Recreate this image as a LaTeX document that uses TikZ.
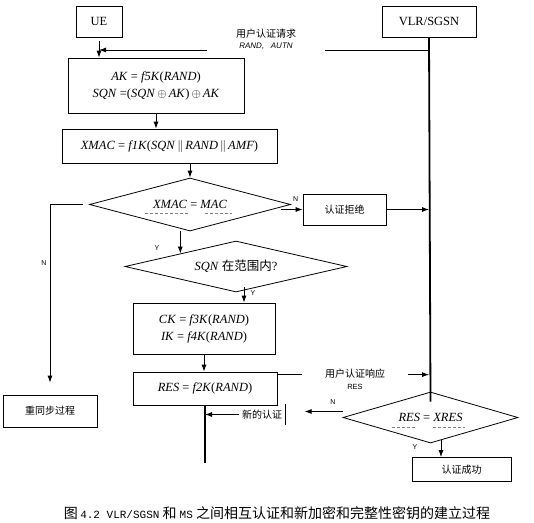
\documentclass[tikz,border=0pt]{standalone}
\usepackage{fontspec}
\setmainfont{Liberation Serif}
\setsansfont{Liberation Sans}
\setmonofont{Liberation Mono}
\newfontfamily\cjk{Noto Sans CJK SC}
\usetikzlibrary{shapes.geometric,arrows.meta}
\newcommand{\vv}[1]{\textit{#1}}
\newcommand{\lat}[1]{{\ttfamily\fontsize{11}{12}\selectfont #1}}

\begin{document}
\begin{tikzpicture}[x=1pt,y=-1pt,line width=0.8pt,
    box/.style={draw,inner sep=2pt,align=center,font=\fontsize{12.5}{17}\selectfont},
    cbox/.style={draw,inner sep=2pt,font=\cjk\fontsize{10}{12}\selectfont},
    test/.style={draw,diamond,inner sep=0pt,font=\fontsize{12.5}{15}\selectfont},
    yn/.style={font=\sffamily\fontsize{7}{8}\selectfont,inner sep=1pt},
    msg/.style={align=center,inner sep=3pt,font=\fontsize{10}{15}\selectfont},
    arr/.style={-{Latex[length=7pt,width=5pt]}},
    life/.style={line width=1.8pt},
    ul/.style={gray,line width=0.5pt,dash pattern=on 3pt off 2pt}]
    \useasboundingbox (0,0) rectangle (534,522);

    \node[box,minimum width=46pt,minimum height=31pt] (ue) at (99,21.5) {UE};
    \node[box,minimum width=94pt,minimum height=31pt] (vlr) at (429,21.5) {VLR/SGSN};
    \node[box,minimum width=176pt,minimum height=55pt] (ak) at (156,85.5) {\vv{AK} = \vv{f5K}(\vv{RAND})\\ \vv{SQN} =(\vv{SQN}\,$\oplus$\,\vv{AK})\,$\oplus$\,\vv{AK}};
    \node[box,minimum width=215pt,minimum height=34pt] (xmac) at (169.5,146) {\vv{XMAC} = \vv{f1K}(\vv{SQN}\,$\|$\,\vv{RAND}\,$\|$\,\vv{AMF})};
    \node[test,aspect=3.79,minimum width=201pt,minimum height=53pt] (d1) at (190,204.5) {\vv{XMAC} = \vv{MAC}};
    \node[cbox,minimum width=83pt,minimum height=31pt] (rej) at (344.5,209.5) {认证拒绝};
    \node[test,aspect=4.35,minimum width=222pt,minimum height=51pt] (d2) at (236,266.5) {\vv{SQN} {\cjk 在范围内}?};
    \node[cbox,minimum width=94pt,minimum height=32pt] (resync) at (50,411) {重同步过程};
    \node[box,minimum width=142pt,minimum height=51pt] (ck) at (204,328.5) {\vv{CK} = \vv{f3K}(\vv{RAND})\\ \vv{IK} = \vv{f4K}(\vv{RAND})};
    \node[box,minimum width=144pt,minimum height=33pt] (res) at (205,388.5) {\vv{RES} = \vv{f2K}(\vv{RAND})};
    \node[test,aspect=3.43,minimum width=175pt,minimum height=51pt] (d3) at (430.5,417.5) {\vv{RES} = \vv{XRES}};
    \node[cbox,minimum width=99pt,minimum height=24pt] (ok) at (461.5,469.5) {认证成功};

    \node[msg,minimum width=118pt] (req) at (266,39) {{\cjk 用户认证请求}\\[-4pt]{\sffamily\itshape\fontsize{8}{9}\selectfont RAND,\ \ \ AUTN}};
    \node[msg,minimum width=105pt] (rsp) at (355,379) {{\cjk 用户认证响应}\\[-3pt]{\sffamily\fontsize{7.5}{8}\selectfont RES}};
    \node[inner sep=3pt,minimum height=21pt,font=\cjk\fontsize{10}{12}\selectfont] (newauth) at (262,414.5) {新的认证};

    \coordinate (rq) at (ue.south |- 0,50);
    \draw (vlr.south |- rq) -- (req.east |- rq);
    \draw[arr] (req.west |- rq) -- (rq);
    \draw[arr] ([yshift=-4pt]ue.south) -- (ue.south |- ak.north);
    \draw[arr] (ak.south) -- (ak.south |- xmac.north);
    \draw[arr] (xmac.south -| d1.north) -- (d1.north);
    \draw[arr] ([xshift=-10pt]d1.east |- rej.west) -- (rej.west);
    \node[yn] (n1) at ([xshift=-7pt,yshift=10pt]rej.west) {N};
    \draw[arr] (rej.east) -- (rej.east -| vlr.south);
    \draw[arr] ([xshift=-6pt]d1.west) -| ([yshift=12pt]resync.north);
    \node[yn] (n2) at (44,263) {N};
    \draw[arr] (d1.south -| d2.north west) -- (d2.north west);
    \node[yn] (y1) at (157,248) {Y};
    \draw[arr] ([xshift=8pt,yshift=5pt]d2.south) -- ([xshift=8pt]d2.south |- ck.north);
    \node[yn] (y2) at (253,293) {Y};
    \draw[arr] (ck.south) -- (ck.south |- res.north);

    \coordinate (rs) at ([yshift=-3pt]res.north east);
    \draw (rs) -- (rsp.west |- rs);
    \draw[arr] (rsp.east |- rs) -- (vlr.south |- rs);
    \draw[life] (vlr.south) -- ([yshift=-10pt]d3.north);
    \draw[life] (res.south) -- ([yshift=-58pt]res.south);
    \draw[arr] (newauth.west) -- (newauth.west -| res.south);
    \draw[life] (newauth.north east) -- (newauth.south east);
    \draw[arr] ([yshift=6pt]d3.west) -- ([xshift=-38pt,yshift=6pt]d3.west);
    \node[yn] (n3) at (333,402) {N};
    \draw[arr] ([xshift=10.5pt,yshift=3pt]d3.south) -- ([xshift=10.5pt]d3.south |- ok.north);
    \node[yn] (y3) at (415,447) {Y};

    \draw[ul] ([xshift=-45pt,yshift=-9pt]d1.center) -- ([yshift=-9pt]d1.center)
        ([xshift=15pt,yshift=-9pt]d1.center) -- ([xshift=42pt,yshift=-9pt]d1.center);
    \draw[ul] ([xshift=-38.5pt,yshift=-9.5pt]d3.center) -- ([xshift=-15.5pt,yshift=-9.5pt]d3.center)
        ([xshift=2.5pt,yshift=-9.5pt]d3.center) -- ([xshift=34.5pt,yshift=-9.5pt]d3.center);

    \node[font=\cjk\fontsize{14}{16}\selectfont] (cap) at (277,513) {图\,\lat{4.2 VLR/SGSN} 和 \lat{MS} 之间相互认证和新加密和完整性密钥的建立过程};
\end{tikzpicture}
\end{document}
